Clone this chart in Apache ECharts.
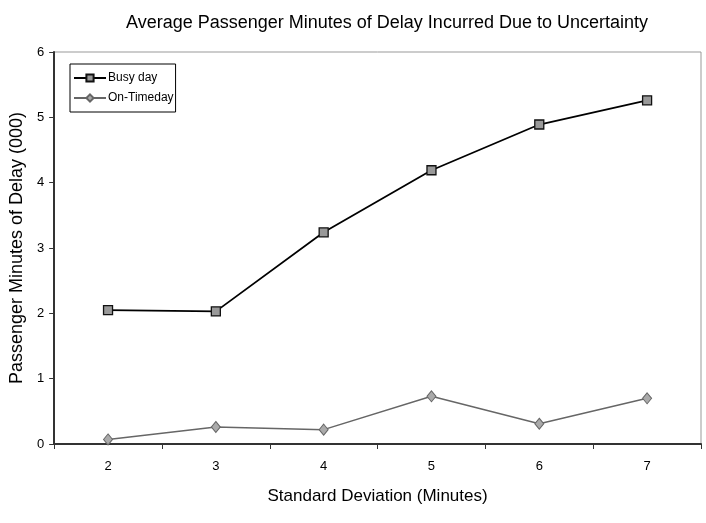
<!DOCTYPE html>
<html><head><meta charset="utf-8">
<script src="https://cdn.jsdelivr.net/npm/echarts@6/dist/echarts.min.js"></script>
<style>html,body{margin:0;padding:0;background:#fff}#c{width:706px;height:523px}</style>
</head><body><div id="c"></div>
<script>
const categories = ['2','3','4','5','6','7'];
const busyDay = [2.05, 2.03, 3.24, 4.19, 4.89, 5.26];
const onTimeDay = [0.07, 0.26, 0.22, 0.73, 0.31, 0.70];
const seriesNames = ['Busy day', 'On-Timeday'];
const chart = echarts.init(document.getElementById('c'));
const font = '"Liberation Sans", Arial, sans-serif';
chart.setOption({
  animation: false,
  backgroundColor: '#fff',
  title: {
    text: 'Average Passenger Minutes of Delay Incurred Due to Uncertainty',
    left: 382, top: 9, textAlign: 'center',
    textStyle: {fontFamily: font, fontSize: 18, fontWeight: 'normal', color: '#000'}
  },
  legend: {
    left: 70, top: 64, orient: 'vertical',
    borderColor: '#000', borderWidth: 1, padding: [8, 2, 8, 3],
    itemGap: 8, itemWidth: 32, itemHeight: 9,
    textStyle: {fontFamily: font, fontSize: 12, color: '#000', padding: [0,0,0,-3]},
    data: seriesNames
  },
  grid: {left: 53, right: 5, top: 52, bottom: 79, show: true, borderColor: '#999', borderWidth: 1},
  xAxis: {
    type: 'category', data: categories, boundaryGap: true,
    name: 'Standard Deviation (Minutes)', nameLocation: 'middle', nameGap: 44,
    nameTextStyle: {fontFamily: font, fontSize: 17, color: '#000'},
    axisLine: {lineStyle: {color: '#333', width: 2}},
    axisTick: {show: true, inside: false, length: 5, lineStyle: {color: '#333'}},
    axisLabel: {fontFamily: font, fontSize: 13, color: '#000', margin: 16},
    splitLine: {show: false}
  },
  yAxis: {
    type: 'value', min: 0, max: 6, interval: 1,
    name: 'Passenger Minutes of Delay (000)', nameLocation: 'middle', nameGap: 25,
    nameTextStyle: {fontFamily: font, fontSize: 18, color: '#000'},
    axisLine: {show: true, lineStyle: {color: '#333', width: 2}},
    axisTick: {show: true, inside: false, length: 5, lineStyle: {color: '#333'}},
    axisLabel: {fontFamily: font, fontSize: 13, color: '#000', margin: 10},
    splitLine: {show: false}
  },
  series: [
    {
      name: seriesNames[0], type: 'line', data: busyDay,
      symbol: 'rect', symbolSize: 9,
      lineStyle: {color: '#000', width: 1.8},
      itemStyle: {color: '#999', borderColor: '#111', borderWidth: 1.3}
    },
    {
      name: seriesNames[1], type: 'line', data: onTimeDay,
      symbol: 'diamond', symbolSize: [9, 11],
      lineStyle: {color: '#666', width: 1.5},
      itemStyle: {color: '#aaa', borderColor: '#666', borderWidth: 1}
    }
  ]
});
</script></body></html>
